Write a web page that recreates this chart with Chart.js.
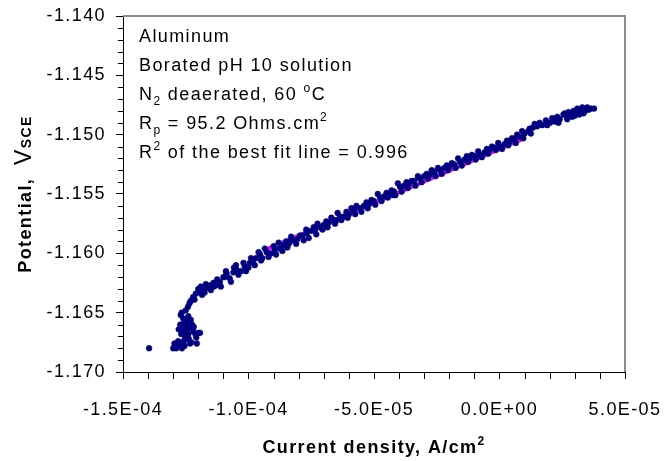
<!DOCTYPE html>
<html>
<head>
<meta charset="utf-8">
<script src="https://cdn.jsdelivr.net/npm/chart.js@4.4.1/dist/chart.umd.min.js"></script>
<style>
  html, body { margin: 0; padding: 0; background: #fff; }
  #wrap { width: 666px; height: 461px; }
</style>
</head>
<body>
<div id="wrap"><canvas id="chart" width="666" height="461"></canvas></div>
<script>
// measured points, current density in uA/cm2 (converted below), potential in V vs SCE
const currentUA = [
  -139.6, -130.0, -129.5, -128.8, -128.0, -127.5, -126.5, -126.0, -125.5, -123.3,
  -120.6, -127.0, -126.0, -125.5, -127.2, -126.4, -125.0, -124.5, -126.0, -125.2,
  -124.0, -123.5, -124.8, -123.0, -124.0, -122.5, -122.0, -121.0, -120.0, -119.3,
  -125.5, -123.8, -122.8, -126.6, -125.0, -124.1, -123.5, -122.1, -123.0, -121.0,
  -119.3, -120.0, -118.0, -116.5, -115.3, -114.0, -113.0, -111.4, -110.0, -108.7,
  -107.5, -106.0, -104.7, -103.0, -101.5, -100.0, -98.2, -97.0, -95.4, -94.5,
  -92.7, -91.0, -89.5, -87.5, -86.0, -84.0, -82.3, -80.5, -78.5, -76.8,
  -75.0, -73.5, -71.5, -70.0, -68.0, -66.0, -63.5, -62.0, -60.0, -58.0,
  -55.6, -54.0, -52.0, -50.0, -47.6, -46.0, -44.0, -42.0, -39.6, -38.0,
  -36.0, -34.0, -31.7, -30.0, -28.0, -26.0, -23.7, -22.0, -20.0, -18.0,
  -15.7, -14.0, -12.0, -10.0, -7.8, -6.0, -4.0, -2.0, 0.2, 2.0,
  4.0, 6.0, 8.2, 10.0, 11.5, 13.3, 15.0, 17.0, 20.1, 22.0,
  24.0, 26.8, 28.5, 30.5, 32.1, 34.0, 35.5, 37.7, -119.0, -117.0,
  -112.5, -109.0, -105.0, -102.0, -99.0, -96.0, -93.5, -90.0, -88.0, -85.0,
  -83.0, -79.5, -77.0, -74.0, -72.5, -69.0, -67.0, -64.5, -61.0, -59.0,
  -57.0, -53.0, -51.0, -48.5, -45.0, -43.0, -40.5, -37.0, -35.0, -32.5,
  -29.0, -27.0, -24.5, -21.0, -19.0, -16.5, -13.0, -11.0, -8.5, -5.0,
  -3.0, -0.5, 3.0, 5.0, 7.0, 9.0, 12.0, 14.0, 16.0, 18.5,
  21.0, 23.0, 25.5, 27.5, 29.5, 31.0, 33.0, 35.0, 36.5, -121.5,
  -118.5, -115.0, -111.0, -107.0, -104.0, -101.0, -97.5, -95.0, -92.0, -89.0,
  -86.5, -84.5, -81.0, -78.0, -76.0, -73.0, -70.5, -68.5, -65.5, -63.0,
  -60.5, -57.5, -55.0, -52.5, -49.5, -47.0, -44.5, -41.5, -39.0, -36.5,
  -33.5, -31.0, -28.5, -25.5, -23.0, -20.5, -17.5, -15.0, -12.5, -9.5,
  -7.0, -4.5, -1.5, 1.0, 3.5, 6.5, 9.5, 12.5, 19.0, 23.5,
  27.0, 30.0, 33.5, -127.8, -121.8, -120.8, -124.6, -126.8, -117.5, -113.8,
  -109.5, -105.8, -99.5, -83.5, -65.0, -42.5, -26.5, 26.0, 29.0, 31.8
];
const potential = [
  -1.1680, -1.1680, -1.1676, -1.1680, -1.1674, -1.1678, -1.1680, -1.1675, -1.1678, -1.1676,
  -1.1676, -1.1652, -1.1655, -1.1658, -1.1660, -1.1663, -1.1661, -1.1665, -1.1667, -1.1670,
  -1.1668, -1.1663, -1.1659, -1.1656, -1.1653, -1.1660, -1.1666, -1.1669, -1.1667, -1.1667,
  -1.1673, -1.1672, -1.1675, -1.1650, -1.1648, -1.1645, -1.1642, -1.1637, -1.1640, -1.1634,
  -1.1633, -1.1630, -1.1631, -1.1629, -1.1627, -1.1625, -1.1627, -1.1624, -1.1620, -1.1617,
  -1.1621, -1.1616, -1.1614, -1.1615, -1.1611, -1.1612, -1.1607, -1.1604, -1.1601, -1.1604,
  -1.1599, -1.1600, -1.1597, -1.1596, -1.1593, -1.1592, -1.1589, -1.1588, -1.1585, -1.1583,
  -1.1581, -1.1581, -1.1578, -1.1576, -1.1574, -1.1572, -1.1569, -1.1569, -1.1567, -1.1564,
  -1.1562, -1.1560, -1.1558, -1.1556, -1.1553, -1.1552, -1.1550, -1.1548, -1.1544, -1.1543,
  -1.1541, -1.1539, -1.1537, -1.1535, -1.1534, -1.1532, -1.1530, -1.1528, -1.1527, -1.1525,
  -1.1523, -1.1521, -1.1520, -1.1518, -1.1517, -1.1515, -1.1513, -1.1511, -1.1510, -1.1508,
  -1.1506, -1.1504, -1.1502, -1.1499, -1.1497, -1.1494, -1.1493, -1.1492, -1.1490, -1.1489,
  -1.1487, -1.1485, -1.1483, -1.1482, -1.1481, -1.1480, -1.1479, -1.1478, -1.1628, -1.1626,
  -1.1622, -1.1615, -1.1610, -1.1608, -1.1604, -1.1599, -1.1596, -1.1594, -1.1591, -1.1590,
  -1.1586, -1.1585, -1.1580, -1.1578, -1.1575, -1.1573, -1.1570, -1.1566, -1.1565, -1.1562,
  -1.1560, -1.1557, -1.1555, -1.1550, -1.1549, -1.1547, -1.1541, -1.1540, -1.1539, -1.1535,
  -1.1533, -1.1530, -1.1528, -1.1526, -1.1524, -1.1520, -1.1518, -1.1517, -1.1514, -1.1512,
  -1.1510, -1.1507, -1.1505, -1.1503, -1.1500, -1.1497, -1.1495, -1.1491, -1.1490, -1.1488,
  -1.1486, -1.1485, -1.1483, -1.1481, -1.1480, -1.1478, -1.1477, -1.1477, -1.1478, -1.1639,
  -1.1635, -1.1631, -1.1628, -1.1624, -1.1618, -1.1615, -1.1610, -1.1606, -1.1603, -1.1601,
  -1.1598, -1.1595, -1.1592, -1.1589, -1.1587, -1.1584, -1.1580, -1.1578, -1.1575, -1.1572,
  -1.1570, -1.1567, -1.1565, -1.1562, -1.1559, -1.1556, -1.1553, -1.1551, -1.1548, -1.1545,
  -1.1543, -1.1540, -1.1537, -1.1535, -1.1533, -1.1530, -1.1528, -1.1526, -1.1523, -1.1521,
  -1.1519, -1.1516, -1.1513, -1.1512, -1.1509, -1.1507, -1.1503, -1.1499, -1.1492, -1.1490,
  -1.1487, -1.1484, -1.1482, -1.1664, -1.1662, -1.1671, -1.1657, -1.1668, -1.1633, -1.1628,
  -1.1620, -1.1612, -1.1608, -1.1590, -1.1572, -1.1551, -1.1531, -1.1482, -1.1485, -1.1483
];

// best fit line ends
const fitCurrentUA = [-94.2, 10.0];
const fitPotential = [-1.1598, -1.1503];

const xTickLabels = ['-1.5E-04', '-1.0E-04', '-5.0E-05', '0.0E+00', '5.0E-05'];
const yTickLabels = ['-1.170', '-1.165', '-1.160', '-1.155', '-1.150', '-1.145', '-1.140'];

const noteLines = [
  [{ t: 'Aluminum' }],
  [{ t: 'Borated pH 10 solution' }],
  [{ t: 'N' }, { t: '2', sub: true }, { t: ' deaerated, 60 ' }, { t: 'o', sup: true }, { t: 'C' }],
  [{ t: 'R' }, { t: 'p', sub: true }, { t: ' = 95.2 Ohms.cm' }, { t: '2', sup: true }],
  [{ t: 'R' }, { t: '2', sup: true }, { t: ' of the best fit line = 0.996' }]
];

const FONT = "'Liberation Sans', Arial, Helvetica, sans-serif";

const scatterPoints = currentUA.map((c, i) => ({ x: c * 1e-6, y: potential[i] }));
const fitPoints = fitCurrentUA.map((c, i) => ({ x: c * 1e-6, y: fitPotential[i] }));

function drawRuns(ctx, runs, x, y, size, bold) {
  runs.forEach(r => {
    let s = r.size || size;
    let dy = r.dy || 0;
    if (r.sub) { s = 12; dy = 5; }
    if (r.sup) { s = 12; dy = -8; }
    ctx.font = ((r.bold !== undefined ? r.bold : bold) ? 'bold ' : '') + s + 'px ' + FONT;
    ctx.fillText(r.t, x, y + dy);
    x += ctx.measureText(r.t).width;
  });
  return x;
}

function runsWidth(ctx, runs, size, bold) {
  let w = 0;
  runs.forEach(r => {
    let s = r.size || size;
    if (r.sub || r.sup) s = 12;
    ctx.font = ((r.bold !== undefined ? r.bold : bold) ? 'bold ' : '') + s + 'px ' + FONT;
    w += ctx.measureText(r.t).width;
  });
  return w;
}

const spacingPlugin = {
  id: 'spacing',
  beforeDraw(chart) {
    chart.ctx.letterSpacing = '1.4px';
  }
};

const decorPlugin = {
  id: 'decor',
  afterDraw(chart) {
    const ctx = chart.ctx;
    const a = chart.chartArea;
    const xs = chart.scales.x;
    const ys = chart.scales.y;
    ctx.save();
    ctx.letterSpacing = '1.4px';

    // top and right frame
    ctx.strokeStyle = '#8c8c8c';
    ctx.lineWidth = 2;
    ctx.beginPath();
    ctx.moveTo(a.left, a.top);
    ctx.lineTo(a.right, a.top);
    ctx.lineTo(a.right, a.bottom);
    ctx.stroke();

    // minor ticks
    ctx.strokeStyle = '#000';
    ctx.lineWidth = 1;
    ctx.beginPath();
    for (let i = 0; i <= 30; i++) {
      if (i % 5 === 0) continue;
      const py = Math.round(ys.getPixelForValue(-1.170 + i * 0.001)) + 0.5;
      ctx.moveTo(a.left - 5, py);
      ctx.lineTo(a.left, py);
    }
    for (let i = 0; i <= 20; i++) {
      if (i % 5 === 0) continue;
      const px = Math.round(xs.getPixelForValue(-1.5e-4 + i * 1e-5)) + 0.5;
      ctx.moveTo(px, a.bottom);
      ctx.lineTo(px, a.bottom + 7);
    }
    ctx.stroke();

    ctx.fillStyle = '#000';
    ctx.textBaseline = 'alphabetic';
    ctx.textAlign = 'left';

    // notes
    noteLines.forEach((line, i) => {
      drawRuns(ctx, line, 139, 42 + i * 29, 18, false);
    });

    // x title
    const xRuns = [{ t: 'Current density, A/cm' }, { t: '2', sup: true }];
    const xw = runsWidth(ctx, xRuns, 18, true);
    drawRuns(ctx, xRuns, (a.left + a.right) / 2 - xw / 2, 453, 18, true);

    // y title
    const yRuns = [
      { t: 'Potential,  ', bold: true, size: 18 },
      { t: 'V', bold: false, size: 23 },
      { t: 'SCE', bold: true, size: 14 }
    ];
    const yw = runsWidth(ctx, yRuns, 18, true);
    ctx.translate(31, (a.top + a.bottom) / 2);
    ctx.rotate(-Math.PI / 2);
    drawRuns(ctx, yRuns, -yw / 2, 0, 18, true);
    ctx.restore();
  }
};

new Chart(document.getElementById('chart'), {
  type: 'scatter',
  data: {
    datasets: [{
      label: 'Data',
      data: scatterPoints,
      backgroundColor: '#000080',
      borderColor: '#000080',
      borderWidth: 0.5,
      pointRadius: 2.9,
      order: 1
    }, {
      label: 'Best fit',
      type: 'line',
      data: fitPoints,
      borderColor: '#ff00ff',
      borderWidth: 4,
      pointRadius: 0,
      fill: false,
      order: 2
    }]
  },
  options: {
    responsive: false,
    animation: false,
    layout: { padding: { top: 16, right: 41, left: 0, bottom: 0 } },
    plugins: {
      legend: { display: false },
      tooltip: { enabled: false }
    },
    scales: {
      x: {
        type: 'linear',
        min: -1.5e-4,
        max: 5e-5,
        afterFit(scale) {
          scale.height = 89;
          scale.paddingLeft = 0;
          scale.paddingRight = 0;
        },
        ticks: {
          stepSize: 5e-5,
          color: '#000',
          padding: 20,
          maxRotation: 0,
          autoSkip: false,
          font: { family: FONT, size: 18 },
          callback: (v, i) => xTickLabels[i]
        },
        grid: {
          drawOnChartArea: false,
          tickLength: 7,
          tickColor: '#000'
        },
        border: { color: '#000', width: 1 }
      },
      y: {
        type: 'linear',
        min: -1.170,
        max: -1.140,
        afterFit(scale) {
          scale.width = 123;
          scale.paddingTop = 0;
          scale.paddingBottom = 0;
        },
        ticks: {
          stepSize: 0.005,
          color: '#000',
          padding: 10,
          font: { family: FONT, size: 18 },
          callback: (v, i) => yTickLabels[i]
        },
        grid: {
          drawOnChartArea: false,
          tickLength: 7,
          tickColor: '#000'
        },
        border: { color: '#000', width: 1 }
      }
    }
  },
  plugins: [spacingPlugin, decorPlugin]
});
</script>
</body>
</html>
